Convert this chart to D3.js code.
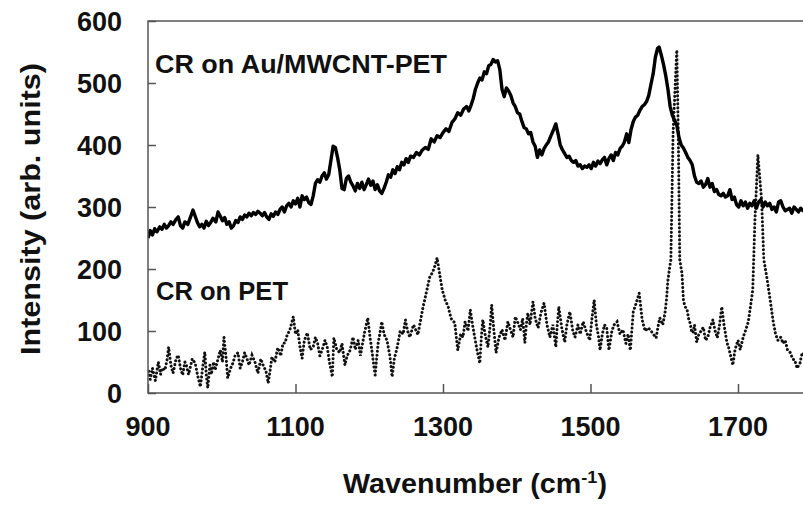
<!DOCTYPE html>
<html><head><meta charset="utf-8">
<script src="https://cdn.jsdelivr.net/npm/d3@7"></script>
<style>html,body{margin:0;padding:0;background:#fff;overflow:hidden}</style>
</head><body>
<svg id="c" width="803" height="510"></svg>
<script>
const xTicks = [900, 1100, 1300, 1500, 1700];
const yTicks = [0, 100, 200, 300, 400, 500, 600];
const seriesNames = ["CR on Au/MWCNT-PET", "CR on PET"];
const auMwcntPet = [[900,250],[903,262],[906,255],[909,265],[912,260],[916,268],[919,264],[922,272],[925,266],[928,270],[931,276],[934,272],[938,280],[941,284],[944,270],[947,266],[950,276],[954,272],[958,285],[961,295],[964,285],[967,275],[970,268],[973,272],[976,266],[979,277],[982,270],[985,275],[988,282],[992,276],[995,292],[998,285],[1001,278],[1004,283],[1007,272],[1010,276],[1013,266],[1016,270],[1019,278],[1022,275],[1025,284],[1028,280],[1031,287],[1034,284],[1037,290],[1040,286],[1043,291],[1046,288],[1049,293],[1052,290],[1055,286],[1058,291],[1061,284],[1064,280],[1067,289],[1070,285],[1073,292],[1076,288],[1079,296],[1082,300],[1085,292],[1088,302],[1091,306],[1094,300],[1097,310],[1100,305],[1103,314],[1106,300],[1109,318],[1112,312],[1115,316],[1118,307],[1121,304],[1124,318],[1127,338],[1130,344],[1133,340],[1136,350],[1139,355],[1142,345],[1145,352],[1148,375],[1151,398],[1154,396],[1157,380],[1160,360],[1163,330],[1166,328],[1169,346],[1172,350],[1175,340],[1178,334],[1181,326],[1184,338],[1187,330],[1190,340],[1193,328],[1196,336],[1199,345],[1202,335],[1205,342],[1208,328],[1211,336],[1214,326],[1217,322],[1220,330],[1223,340],[1226,352],[1229,348],[1232,360],[1235,354],[1238,365],[1241,360],[1244,372],[1247,368],[1250,378],[1253,372],[1256,382],[1260,380],[1264,388],[1268,384],[1272,392],[1276,396],[1280,393],[1284,410],[1288,405],[1292,415],[1296,412],[1300,420],[1304,426],[1308,422],[1312,436],[1316,442],[1320,452],[1324,448],[1328,458],[1332,462],[1335,455],[1338,464],[1341,475],[1344,490],[1347,500],[1350,508],[1353,505],[1356,518],[1359,515],[1362,528],[1365,530],[1368,538],[1371,534],[1374,536],[1377,522],[1380,490],[1383,478],[1386,492],[1389,487],[1392,480],[1395,468],[1398,462],[1401,452],[1404,450],[1407,438],[1410,428],[1413,426],[1416,418],[1419,420],[1422,405],[1425,398],[1428,380],[1431,392],[1434,384],[1437,394],[1440,400],[1443,405],[1446,414],[1450,425],[1453,434],[1456,418],[1459,400],[1462,392],[1465,386],[1468,380],[1471,382],[1474,375],[1477,372],[1480,375],[1483,366],[1486,368],[1489,362],[1492,366],[1495,364],[1498,368],[1501,362],[1504,372],[1507,366],[1510,374],[1513,370],[1516,376],[1519,380],[1522,368],[1525,378],[1528,384],[1531,375],[1534,388],[1537,384],[1540,394],[1543,398],[1546,405],[1549,418],[1552,404],[1555,425],[1558,438],[1561,445],[1564,448],[1567,456],[1570,462],[1573,465],[1576,470],[1579,480],[1582,498],[1585,515],[1588,542],[1591,556],[1593,558],[1596,545],[1599,530],[1602,512],[1605,490],[1608,462],[1611,448],[1614,440],[1617,432],[1620,412],[1623,400],[1626,395],[1629,388],[1632,380],[1635,375],[1638,368],[1641,350],[1644,340],[1647,338],[1650,342],[1653,332],[1656,336],[1659,346],[1662,332],[1665,338],[1668,325],[1671,328],[1674,320],[1677,318],[1680,322],[1683,316],[1686,318],[1689,328],[1692,312],[1695,316],[1698,304],[1701,300],[1704,310],[1707,302],[1710,308],[1713,298],[1716,306],[1719,302],[1722,310],[1725,298],[1728,308],[1731,312],[1734,300],[1737,308],[1740,302],[1743,306],[1746,296],[1749,300],[1752,292],[1755,308],[1758,310],[1761,300],[1764,294],[1767,296],[1770,298],[1773,290],[1776,300],[1779,296],[1782,292],[1785,298],[1788,294],[1800,290]];
const pet = [[901,35],[903,22],[906,40],[910,20],[914,50],[917,30],[919,40],[923,37],[926,55],[928,74],[931,45],[934,32],[938,55],[941,61],[944,40],[947,29],[950,50],[952,45],[955,30],[957,40],[960,55],[964,48],[967,30],[971,10],[974,40],[977,66],[979,30],[981,8],[984,45],[986,30],[989,50],[991,37],[995,55],[998,69],[1001,50],[1003,90],[1006,55],[1008,24],[1012,40],[1015,48],[1018,60],[1022,65],[1025,40],[1028,50],[1031,65],[1034,56],[1037,45],[1041,61],[1045,50],[1049,32],[1053,55],[1056,45],[1060,35],[1063,16],[1066,40],[1068,58],[1072,50],[1076,73],[1080,60],[1083,80],[1086,81],[1089,95],[1092,100],[1097,123],[1100,95],[1103,102],[1106,75],[1109,56],[1112,85],[1116,97],[1120,70],[1124,74],[1127,90],[1130,80],[1133,60],[1136,69],[1140,85],[1143,74],[1146,50],[1150,26],[1152,89],[1156,70],[1160,65],[1163,80],[1167,45],[1170,60],[1174,69],[1178,90],[1181,70],[1185,85],[1188,60],[1190,74],[1194,100],[1198,121],[1201,90],[1204,65],[1206,45],[1208,29],[1212,80],[1215,100],[1217,115],[1220,95],[1224,85],[1228,60],[1231,26],[1234,55],[1238,74],[1242,100],[1246,95],[1249,118],[1252,100],[1255,90],[1260,110],[1266,94],[1270,120],[1273,139],[1277,160],[1282,187],[1286,195],[1289,205],[1292,218],[1295,195],[1299,166],[1303,150],[1307,139],[1311,120],[1316,113],[1318,90],[1320,69],[1324,95],[1327,90],[1330,115],[1334,100],[1337,134],[1340,110],[1343,90],[1346,70],[1350,48],[1352,90],[1354,118],[1357,95],[1361,74],[1364,110],[1366,142],[1369,100],[1372,65],[1376,90],[1380,102],[1384,85],[1388,115],[1392,100],[1395,90],[1398,123],[1401,115],[1405,102],[1408,120],[1411,81],[1413,110],[1415,129],[1418,110],[1422,147],[1425,120],[1429,105],[1433,130],[1437,145],[1441,110],[1445,90],[1449,110],[1453,74],[1455,110],[1457,139],[1461,105],[1465,82],[1468,110],[1472,131],[1476,100],[1479,90],[1483,110],[1486,95],[1490,115],[1494,100],[1499,85],[1502,120],[1505,150],[1508,110],[1511,90],[1513,69],[1516,95],[1519,110],[1522,105],[1524,80],[1525,69],[1529,100],[1532,110],[1536,115],[1540,95],[1544,102],[1548,80],[1551,95],[1554,69],[1556,100],[1558,131],[1562,145],[1566,161],[1568,140],[1570,118],[1574,100],[1578,105],[1581,102],[1585,95],[1589,89],[1592,110],[1594,121],[1598,110],[1601,129],[1603,150],[1605,182],[1607,200],[1609,215],[1612,419],[1617,553],[1619,419],[1621,215],[1624,193],[1626,150],[1628,140],[1631,134],[1633,120],[1635,113],[1637,100],[1639,97],[1641,110],[1644,82],[1647,95],[1650,100],[1653,106],[1656,85],[1659,90],[1662,105],[1666,118],[1669,100],[1672,89],[1675,110],[1678,139],[1681,110],[1685,81],[1687,75],[1689,65],[1691,55],[1693,45],[1696,70],[1700,85],[1703,70],[1707,90],[1710,100],[1714,115],[1717,140],[1720,166],[1723,280],[1727,384],[1732,311],[1735,215],[1739,187],[1743,155],[1746,130],[1748,113],[1751,95],[1754,85],[1758,90],[1761,80],[1764,85],[1767,70],[1771,65],[1774,55],[1777,53],[1780,40],[1784,48],[1787,65],[1790,60],[1800,55]];

const svg = d3.select("#c");
const L = 148, T = 21, B = 393;
const x = d3.scaleLinear().domain([900, 1800]).range([L, L + 900 * 0.7375]);
const y = d3.scaleLinear().domain([0, 600]).range([B, T]);
const font = "'Liberation Sans', Arial, sans-serif";
const ink = "#111";

svg.append("defs").append("clipPath").attr("id", "clip")
  .append("rect").attr("x", L).attr("y", T - 2).attr("width", x(1800) - L).attr("height", B - T + 2);

const line = d3.line().x(d => x(d[0])).y(d => y(d[1]));
const g = svg.append("g").attr("clip-path", "url(#clip)");
g.append("path").datum(pet).attr("d", line).attr("fill", "none")
  .attr("stroke", "#111").attr("stroke-width", 3).attr("stroke-linecap", "round")
  .attr("stroke-dasharray", "0.1 3.9");
g.append("path").datum(auMwcntPet).attr("d", line).attr("fill", "none")
  .attr("stroke", "#000").attr("stroke-width", 3.4).attr("stroke-linejoin", "round");

// frame
svg.append("rect").attr("x", L).attr("y", T).attr("width", x(1800) - L).attr("height", B - T)
  .attr("fill", "none").attr("stroke", "#555").attr("stroke-width", 1.5);

// axes
const ya = svg.append("g").attr("transform", `translate(${L},0)`)
  .call(d3.axisRight(y).tickValues(yTicks).tickSize(8).tickFormat(""));
ya.select(".domain").remove();
ya.selectAll("line").attr("stroke", "#555").attr("stroke-width", 1.5);
const xa = svg.append("g").attr("transform", `translate(0,${B})`)
  .call(d3.axisTop(x).tickValues(xTicks).tickSize(9).tickFormat(""));
xa.select(".domain").remove();
xa.selectAll("line").attr("stroke", "#555").attr("stroke-width", 1.5);

svg.append("g").selectAll("text").data(yTicks).join("text")
  .attr("x", 122).attr("y", d => y(d)).attr("dy", "0.36em")
  .attr("text-anchor", "end").attr("font-family", font).attr("font-weight", "bold")
  .attr("font-size", 27).attr("fill", ink).text(d => d);
svg.append("g").selectAll("text").data(xTicks).join("text")
  .attr("x", d => x(d)).attr("y", 436)
  .attr("text-anchor", "middle").attr("font-family", font).attr("font-weight", "bold")
  .attr("font-size", 27).attr("fill", ink).text(d => d);

const xt = svg.append("text").attr("x", 343).attr("y", 493)
  .attr("font-family", font).attr("font-weight", "bold").attr("font-size", 27).attr("fill", ink)
  .attr("textLength", 264).attr("lengthAdjust", "spacingAndGlyphs");
xt.append("tspan").text("Wavenumber (cm");
xt.append("tspan").attr("dy", -10).attr("font-size", 17).text("-1");
xt.append("tspan").attr("dy", 10).text(")");

svg.append("text").attr("transform", "translate(40,355) rotate(-90)")
  .attr("font-family", font).attr("font-weight", "bold").attr("font-size", 27).attr("fill", ink)
  .attr("textLength", 292).attr("lengthAdjust", "spacingAndGlyphs")
  .text("Intensity (arb. units)");

svg.append("text").attr("x", 155).attr("y", 73).attr("font-family", font).attr("font-weight", "bold")
  .attr("font-size", 26).attr("fill", ink)
  .attr("textLength", 292).attr("lengthAdjust", "spacingAndGlyphs").text(seriesNames[0]);
svg.append("text").attr("x", 156).attr("y", 300).attr("font-family", font).attr("font-weight", "bold")
  .attr("font-size", 26).attr("fill", ink)
  .attr("textLength", 132).attr("lengthAdjust", "spacingAndGlyphs").text(seriesNames[1]);
</script>
</body></html>
